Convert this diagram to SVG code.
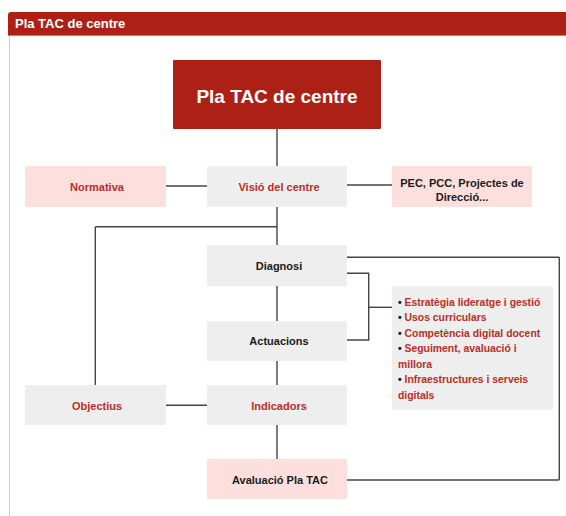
<svg xmlns="http://www.w3.org/2000/svg" width="566" height="516" viewBox="0 0 566 516">
<style>
text{font-family:"Liberation Sans",Arial,sans-serif;font-weight:bold}
.g{fill:#eeeeee}
.p{fill:#fde0de}
.r{fill:#bd2d25;font-size:11px;text-anchor:middle}
.k{fill:#1a1a1a;font-size:11px;text-anchor:middle}
.c{fill:none;stroke:#444;stroke-width:1.4}
.li{font-size:10.4px;fill:#bd2d25}
.b{fill:#111}
</style>
<rect x="0" y="0" width="566" height="516" fill="#fff"/>
<g id="frame">
<line x1="9.5" y1="36" x2="9.5" y2="516" stroke="#cfcfcf" stroke-width="1"/>
<path d="M8 36 V15 Q8 12 11 12 H566 V36 Z" fill="#ad2016"/>
<line x1="8" y1="35.5" x2="566" y2="35.5" stroke="#d9706a" stroke-width="1"/>
<text x="15" y="28" fill="#fff" font-size="13">Pla TAC de centre</text>
</g>
<g id="connectors">
<line class="c" x1="277" y1="129" x2="277" y2="166"/>
<line class="c" x1="166" y1="186" x2="207" y2="186"/>
<line class="c" x1="347" y1="185" x2="392" y2="185"/>
<line class="c" x1="277" y1="207" x2="277" y2="245"/>
<path class="c" d="M277 226.7 H96 Q95.3 226.7 95.3 227.5 V385"/>
<line class="c" x1="277" y1="286" x2="277" y2="321"/>
<path class="c" d="M347 273.3 H368.7 V340 H347"/>
<line class="c" x1="368.7" y1="307.3" x2="392" y2="307.3"/>
<path class="c" d="M347 257.3 H558.5 Q559.3 257.3 559.3 258 V479 Q559.3 480 558.5 480 H347"/>
<line class="c" x1="277" y1="361" x2="277" y2="385"/>
<line class="c" x1="166" y1="405.3" x2="207" y2="405.3"/>
<line class="c" x1="277" y1="425" x2="277" y2="459"/>
</g>
<g id="main">
<rect x="173" y="60" width="208" height="69" rx="1" fill="#ad2016"/>
<text x="277" y="102.5" fill="#fff" font-size="19" text-anchor="middle">Pla TAC de centre</text>
</g>
<g id="normativa">
<rect class="p" x="25" y="166" width="141" height="41" rx="1"/>
<text class="r" x="97" y="191">Normativa</text>
</g>
<g id="visio">
<rect class="g" x="207" y="166" width="140" height="41" rx="1"/>
<text class="r" x="279" y="191">Visió del centre</text>
</g>
<g id="pec">
<rect class="p" x="392" y="166" width="140" height="41" rx="1"/>
<text class="k" x="462" y="187">PEC, PCC, Projectes de</text>
<text class="k" x="462" y="200.5">Direcció...</text>
</g>
<g id="diagnosi">
<rect class="g" x="207" y="245" width="140" height="41" rx="1"/>
<text class="k" x="279" y="270">Diagnosi</text>
</g>
<g id="actuacions">
<rect class="g" x="207" y="321" width="140" height="40" rx="1"/>
<text class="k" x="279" y="345">Actuacions</text>
</g>
<g id="llista">
<rect class="g" x="392" y="286" width="161" height="124" rx="1"/>
<text class="li" x="398" y="305.5"><tspan class="b">•</tspan> Estratègia lideratge i gestió</text>
<text class="li" x="398" y="321"><tspan class="b">•</tspan> Usos curriculars</text>
<text class="li" x="398" y="336.5"><tspan class="b">•</tspan> Competència digital docent</text>
<text class="li" x="398" y="352"><tspan class="b">•</tspan> Seguiment, avaluació i</text>
<text class="li" x="398" y="367.5">millora</text>
<text class="li" x="398" y="383"><tspan class="b">•</tspan> Infraestructures i serveis</text>
<text class="li" x="398" y="398.5">digitals</text>
</g>
<g id="objectius">
<rect class="g" x="25" y="385" width="141" height="40" rx="1"/>
<text class="r" x="97" y="409.5">Objectius</text>
</g>
<g id="indicadors">
<rect class="g" x="207" y="385" width="140" height="40" rx="1"/>
<text class="r" x="279" y="410">Indicadors</text>
</g>
<g id="avaluacio">
<rect class="p" x="207" y="459" width="140" height="40" rx="1"/>
<text class="k" x="280" y="484">Avaluació Pla TAC</text>
</g>
</svg>
